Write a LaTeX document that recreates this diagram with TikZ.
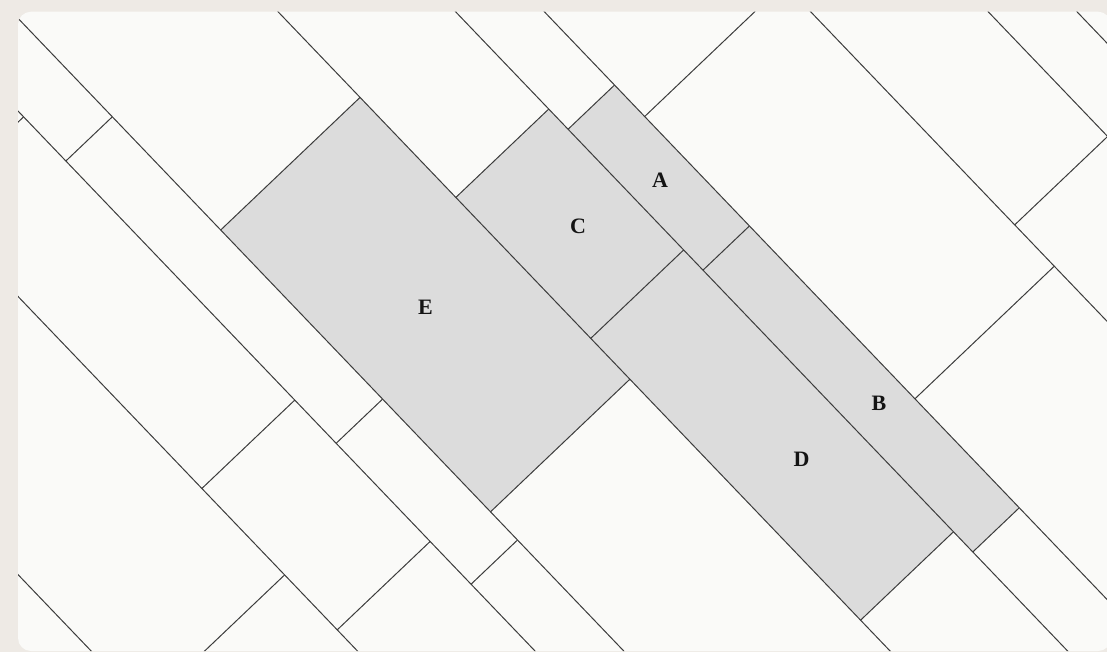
\documentclass[tikz,border=0pt]{standalone}
\usepackage{fontspec}
\setmainfont{Liberation Serif}
\usepackage{xcolor}
\usepackage{tikz}

\definecolor{paper}{HTML}{EEEAE5}
\definecolor{panel}{HTML}{FAFAF8}
\definecolor{tilegray}{HTML}{DCDCDC}
\definecolor{joint}{HTML}{3C3C3C}

\begin{document}
\begin{tikzpicture}[
  x=1pt, y=-1pt,
  jointline/.style={draw=joint, line width=1pt},
  shaded/.style={fill=tilegray},
  tag/.style={font=\fontsize{22}{26}\selectfont\bfseries, text=black!92, inner sep=0pt}
]
  \useasboundingbox (0,0) rectangle (1107,652);
  \fill[paper] (0,0) rectangle (1107,652);
  \fill[panel, rounded corners=13pt] (18,11.7) rectangle (1111,651);

  \begin{scope}
    \clip[rounded corners=13pt] (18,11.7) rectangle (1111,651);
    \begin{scope}[shift={(220.7pt,-230pt)}, x={(44.97pt,-46.97pt)}, y={(46.45pt,44.2pt)}]
      \fill[shaded] (0,0) -- (6,0) -- (6,3) -- (0,3) -- cycle;
      \fill[shaded] (2.13,3) -- (5.13,3) -- (5.13,5) -- (2.13,5) -- cycle;
      \fill[shaded] (5.13,3) -- (11.13,3) -- (11.13,5) -- (5.13,5) -- cycle;
      \fill[shaded] (2.56,5) -- (5.56,5) -- (5.56,6) -- (2.56,6) -- cycle;
      \fill[shaded] (5.56,5) -- (11.56,5) -- (11.56,6) -- (5.56,6) -- cycle;

      \foreach \q in {-6,-3,-1,0,3,5,6,9,11,12}
        \draw[jointline] (-10,\q) -- (18,\q);

      \foreach \p/\qa/\qb in {4.52/-6/-3, -3.35/-3/-1, 2.68/-3/-1, 5.69/-3/-1,
          -2.41/-1/0, 3.6/-1/0, 6.6/-1/0, 0/0/3, 6/0/3,
          2.13/3/5, 5.13/3/5, 11.13/3/5, 2.56/5/6, 5.56/5/6, 11.56/5/6,
          3.23/6/9, 9.24/6/9, 8.36/9/11}
        \draw[jointline] (\p,\qa) -- (\p,\qb);
    \end{scope}
  \end{scope}

  \node[tag] (lblA) at (660,180) {A};
  \node[tag] (lblB) at (879,403) {B};
  \node[tag] (lblC) at (578,226) {C};
  \node[tag] (lblD) at (801.5,459.5) {D};
  \node[tag] (lblE) at (425.5,307.5) {E};
\end{tikzpicture}
\end{document}
